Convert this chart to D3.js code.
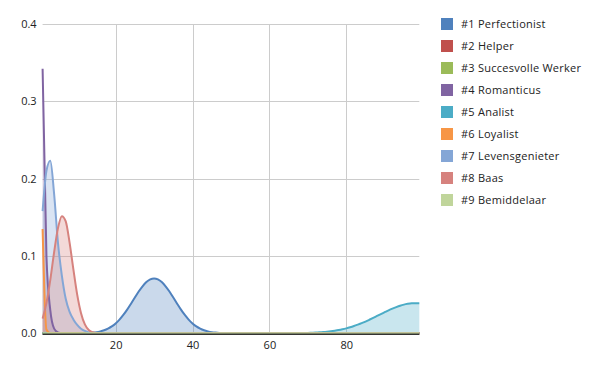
<!DOCTYPE html>
<html>
<head>
<meta charset="utf-8">
<script src="https://cdn.jsdelivr.net/npm/d3@7"></script>
<style>
  body { margin: 0; background: #fff; }
  text { font-family: "Open Sans", sans-serif; fill: #222; }
</style>
</head>
<body>
<div id="vis"></div>
<script>
// Data: [x, density] points per type, zero elsewhere
const seriesNames = ["#1 Perfectionist", "#2 Helper", "#3 Succesvolle Werker", "#4 Romanticus",
    "#5 Analist", "#6 Loyalist", "#7 Levensgenieter", "#8 Baas", "#9 Bemiddelaar"];

const perfectionist = [[1, 0], [11, 0],
    [12, 0.0003], [13, 0.0005], [14, 0.0009], [15, 0.0015], [16, 0.0025], [17, 0.0039], [18, 0.006],
    [19, 0.0089], [20, 0.0128], [21, 0.0177], [22, 0.0237], [23, 0.0306], [24, 0.0383], [25, 0.0462],
    [26, 0.054], [27, 0.0608], [28, 0.0663], [29, 0.0698], [30, 0.071], [31, 0.0698], [32, 0.0663],
    [33, 0.0608], [34, 0.054], [35, 0.0462], [36, 0.0383], [37, 0.0306], [38, 0.0237], [39, 0.0177],
    [40, 0.0128], [41, 0.0089], [42, 0.006], [43, 0.0039], [44, 0.0025], [45, 0.0015], [46, 0.0009],
    [47, 0.0005], [48, 0.0003], [49, 0], [99, 0]];
const helper = [[1, 0], [99, 0]];
const succesvolleWerker = [[1, 0], [99, 0]];
const romanticus = [[1, 0.342], [2, 0.1], [3, 0.03], [4, 0.006], [5, 0.001], [6, 0], [99, 0]];
const analist = [[1, 0], [67, 0],
    [68, 0.0003], [69, 0.0004], [70, 0.0005], [71, 0.0007], [72, 0.0009], [73, 0.0012], [74, 0.0016],
    [75, 0.0021], [76, 0.0027], [77, 0.0034], [78, 0.0042], [79, 0.0052], [80, 0.0064], [81, 0.0078],
    [82, 0.0094], [83, 0.0112], [84, 0.0131], [85, 0.0152], [86, 0.0175], [87, 0.0199], [88, 0.0224],
    [89, 0.0249], [90, 0.0273], [91, 0.0297], [92, 0.0319], [93, 0.0339], [94, 0.0357], [95, 0.0371],
    [96, 0.0381], [97, 0.0388], [98, 0.039], [99, 0.0389]];
const loyalist = [[1, 0.135], [2, 0.005], [3, 0], [99, 0]];
const levensgenieter = [[1, 0.158], [2, 0.21], [3, 0.223], [4, 0.18], [5, 0.117], [6, 0.075],
    [7, 0.045], [8, 0.028], [9, 0.018], [10, 0.011], [11, 0.006], [12, 0.003], [13, 0.001], [14, 0], [99, 0]];
const baas = [[1, 0.019], [2, 0.039], [3, 0.069], [4, 0.105], [5, 0.136], [6, 0.1515], [7, 0.145],
    [8, 0.118], [9, 0.083], [10, 0.05], [11, 0.026], [12, 0.0115], [13, 0.0043], [14, 0.0014],
    [15, 0.0004], [16, 0], [99, 0]];
const bemiddelaar = [[1, 0], [99, 0]];

const xTicks = [20, 40, 60, 80];
const yTicks = [0, 0.1, 0.2, 0.3, 0.4];

const seriesData = [perfectionist, helper, succesvolleWerker, romanticus, analist,
    loyalist, levensgenieter, baas, bemiddelaar];
const colors = ["#4f81bd", "#c0504d", "#9bbb59", "#8064a2", "#4bacc6",
    "#f79646", "#84a6d6", "#d6827e", "#c0d59b"];

const WIDTH = 600;
const HEIGHT = 371;
const PLOT = { left: 42.6, right: 419.3, top: 24, bottom: 333.3 };

const SVG = d3.select("#vis").append("svg")
    .attr("width", WIDTH)
    .attr("height", HEIGHT);

const xScale = d3.scaleLinear().domain([1, 99]).range([PLOT.left, PLOT.right]);
const yScale = d3.scaleLinear().domain([0, 0.4]).range([PLOT.bottom, PLOT.top]);

// grid
SVG.append("g").selectAll("line")
    .data(yTicks.filter(d => d > 0))
    .join("line")
    .attr("x1", PLOT.left).attr("x2", PLOT.right)
    .attr("y1", d => Math.round(yScale(d)) + 0.5).attr("y2", d => Math.round(yScale(d)) + 0.5)
    .attr("stroke", "#cccccc");

SVG.append("g").selectAll("line")
    .data(xTicks)
    .join("line")
    .attr("x1", d => Math.round(xScale(d)) + 0.5).attr("x2", d => Math.round(xScale(d)) + 0.5)
    .attr("y1", PLOT.top).attr("y2", PLOT.bottom)
    .attr("stroke", "#cccccc");

const area = d3.area()
    .x(d => xScale(d[0]))
    .y0(yScale(0))
    .y1(d => yScale(d[1]))
    .curve(d3.curveMonotoneX);

const line = d3.line()
    .x(d => xScale(d[0]))
    .y(d => yScale(d[1]))
    .curve(d3.curveMonotoneX);

const plot = SVG.append("g");

plot.selectAll("path.area")
    .data(seriesData)
    .join("path")
    .attr("class", "area")
    .attr("d", area)
    .attr("fill", (d, i) => colors[i])
    .attr("fill-opacity", 0.3);

plot.selectAll("path.line")
    .data(seriesData)
    .join("path")
    .attr("class", "line")
    .attr("d", line)
    .attr("fill", "none")
    .attr("stroke", (d, i) => colors[i])
    .attr("stroke-width", 2);

// axes
const ejeX = SVG.append("g")
    .attr("transform", `translate(0, ${PLOT.bottom})`)
    .call(d3.axisBottom(xScale).tickValues(xTicks).tickSize(0).tickPadding(8));
ejeX.select(".domain").remove();
ejeX.selectAll("text").attr("font-size", 11).attr("font-family", null);

SVG.append("line")
    .attr("x1", PLOT.left).attr("x2", PLOT.right)
    .attr("y1", PLOT.bottom + 1).attr("y2", PLOT.bottom + 1)
    .attr("stroke", "#333")
    .attr("stroke-width", 1.5);

const ejeY = SVG.append("g")
    .attr("transform", `translate(${PLOT.left}, 0)`)
    .call(d3.axisLeft(yScale).tickValues(yTicks).tickFormat(d3.format(".1f")).tickSize(0).tickPadding(6));
ejeY.select(".domain").remove();
ejeY.selectAll("text").attr("font-size", 11).attr("font-family", null);

// leyenda
const legend = SVG.append("g")
    .attr("transform", "translate(441, 18)");

legend.selectAll("g")
    .data(seriesNames)
    .join("g")
    .attr("transform", (d, i) => `translate(0, ${i * 22})`)
    .each(function(d, i) {
        d3.select(this).append("rect")
            .attr("width", 12)
            .attr("height", 12)
            .attr("fill", colors[i]);

        d3.select(this).append("text")
            .attr("x", 20)
            .attr("y", 6)
            .attr("dy", "0.35em")
            .attr("font-size", 11)
            .attr("letter-spacing", 0.25)
            .text(d);
    });
</script>
</body>
</html>
